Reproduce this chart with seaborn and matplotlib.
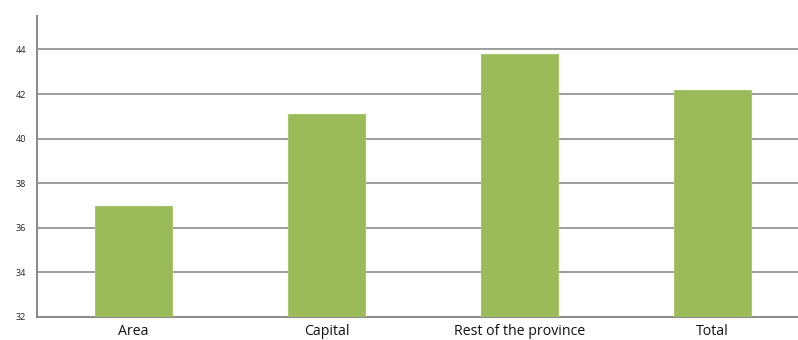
import matplotlib

matplotlib.use("Agg")
import matplotlib.pyplot as plt
import numpy as np
import seaborn as sns

categories = ["Area", "Capital", "Rest of the province", "Total"]
values = [37.0, 41.1, 43.8, 42.2]
y_ticks = [32, 34, 36, 38, 40, 42, 44]

sns.set_style("white")
plt.rcParams["font.family"] = ["Open Sans", "DejaVu Sans"]

fig = plt.figure(figsize=(7.98, 3.4), dpi=100)
ax = fig.add_axes([37 / 798, 23 / 340, 772 / 798, 301 / 340])

sns.barplot(
    x=categories, y=values, color="#9BBB59", width=0.4, saturation=1,
    edgecolor="#a9c66e", linewidth=0.8, ax=ax, zorder=3,
)

ax.set_ylim(32, 45.5)
ax.set_xlim(-0.5, 3.5)
ax.set_yticks(y_ticks)
ax.set_yticklabels([str(t) for t in y_ticks], fontsize=6.5, color="#222222")
ax.tick_params(axis="y", length=0, pad=8)
ax.tick_params(axis="x", length=0, pad=5, labelsize=10.2, labelcolor="#111111")
# horizontal gridlines (no line at the top of the axis)
for t in y_ticks[1:]:
    ax.axhline(t, color="#8c8c8c", linewidth=1.2, zorder=1)

for side in ["top", "right"]:
    ax.spines[side].set_visible(False)
for side in ["left", "bottom"]:
    ax.spines[side].set_color("#8c8c8c")
    ax.spines[side].set_linewidth(1.5)
ax.set_xlabel("")
ax.set_ylabel("")

fig.savefig("out.png", dpi=100)
